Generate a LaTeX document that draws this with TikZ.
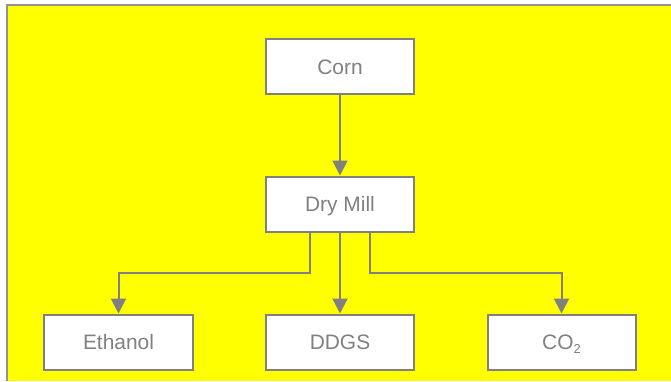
\documentclass[tikz,border=0pt]{standalone}
\usepackage{fontspec}
\setmainfont{Liberation Sans}
\usetikzlibrary{arrows.meta}
\definecolor{ln}{RGB}{128,128,128}
\definecolor{bg}{RGB}{255,255,0}
\tikzset{
  box/.style={draw=ln, line width=2bp, fill=white, minimum width=148bp, minimum height=55bp,
    inner sep=0pt, text=ln, font=\fontsize{21}{25}\selectfont, text height=15bp, text depth=0bp},
  conn/.style={draw=ln, line width=2bp, -{Triangle[length=15bp,width=15bp]}}
}
\begin{document}
\begin{tikzpicture}[x=1bp,y=-1bp]
\useasboundingbox (0,0) rectangle (671,381);
\fill[white] (0,0) rectangle (671,381);
\fill[bg] (7,5) rectangle (671,381);
\draw[ln!85, line width=2bp] (7,381) -- (7,5) -- (671,5);
\node[box] (corn) at (340,66.5) {Corn};
\node[box] (mill) at (340,204) {Dry Mill};
\node[box] (eth) at (118.5,342) {Ethanol};
\node[box] (ddgs) at (340,342) {DDGS};
\node[box] (co2) at (561.5,342) {CO\raisebox{-4bp}{\fontsize{13}{13}\selectfont 2}};
\draw[conn] (corn.south) -- (mill.north);
\draw[conn] ([xshift=-30bp]mill.south) |- (118.5,273) -- (eth.north);
\draw[conn] (mill.south) -- (ddgs.north);
\draw[conn] ([xshift=30bp]mill.south) |- (561.5,273) -- (co2.north);
\end{tikzpicture}
\end{document}
